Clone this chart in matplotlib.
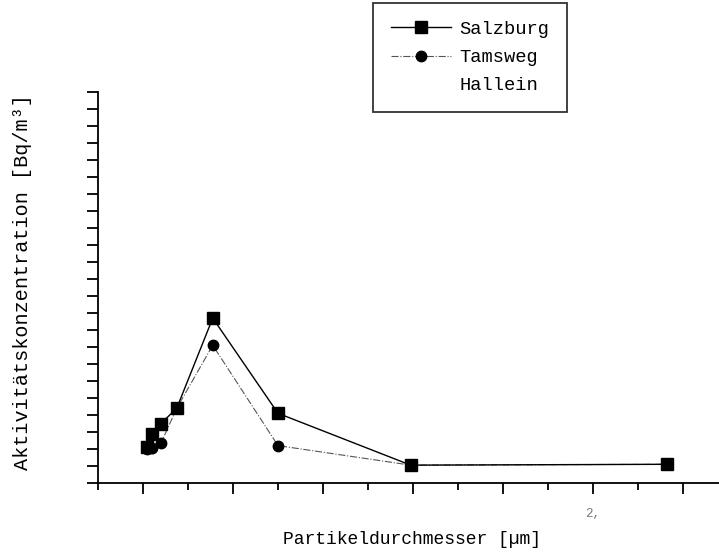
import numpy as np
import matplotlib.pyplot as plt
from matplotlib.ticker import MultipleLocator, FuncFormatter

plt.rcParams['font.family'] = ['Liberation Mono', 'DejaVu Sans Mono']

# particle diameter (µm) and activity concentration (arbitrary units, no y labels in original)
diameter = [0.02, 0.04, 0.08, 0.15, 0.31, 0.60, 1.19, 2.33]
salzburg = [2.1, 2.9, 3.5, 4.4, 9.7, 4.1, 1.05, 1.1]
tamsweg = [2.0, 2.05, 2.35, 4.4, 8.1, 2.2, 1.05, 1.1]
hallein_x = []
hallein_y = []

fig = plt.figure(figsize=(7.19, 5.52), dpi=100)
ax = fig.add_axes([0.1363, 0.125, 0.8637, 0.7083])

ax.plot(diameter, salzburg, color="black", lw=1.0, marker="s", ms=8,
        label="Salzburg", zorder=3)
ax.plot(diameter, tamsweg, color="#555555", lw=0.8, ls="-.", marker="o", ms=7.5,
        mfc="black", mec="black", label="Tamsweg", zorder=2)
ax.plot(hallein_x, hallein_y, ls="none", label="Hallein")

ax.set_xlim(-0.2, 2.56)
ax.set_ylim(0, 23)

ax.spines["top"].set_visible(False)
ax.spines["right"].set_visible(False)
ax.spines["left"].set_linewidth(1.3)
ax.spines["bottom"].set_linewidth(1.3)

ax.xaxis.set_major_locator(MultipleLocator(0.4))
ax.xaxis.set_minor_locator(MultipleLocator(0.2))
ax.xaxis.set_major_formatter(FuncFormatter(lambda v, p: "2," if abs(v - 2.0) < 1e-6 else ""))
ax.yaxis.set_major_locator(MultipleLocator(1))
ax.yaxis.set_major_formatter(FuncFormatter(lambda v, p: ""))

ax.tick_params(axis="x", which="major", direction="out", length=8, width=1.3,
               labelsize=9, labelcolor="#777777", pad=10)
ax.tick_params(axis="x", which="minor", direction="out", length=5, width=1.3)
ax.tick_params(axis="y", which="major", direction="out", length=8, width=1.3)

fig.text(0.573, 0.022, "Partikeldurchmesser [µm]", ha="center", va="center", fontsize=13)
fig.text(0.031, 0.489, "Aktivitätskonzentration [Bq/m³]", ha="center", va="center",
         rotation=90, fontsize=14.5)

leg = fig.legend(loc="upper left", bbox_to_anchor=(0.519, 0.995), fontsize=13.5,
                 frameon=True, fancybox=False, edgecolor="black", handlelength=3.2,
                 handletextpad=0.45, labelspacing=0.6, borderpad=0.95, borderaxespad=0)
leg.get_frame().set_linewidth(1.3)

fig.savefig("out.png", dpi=100)
